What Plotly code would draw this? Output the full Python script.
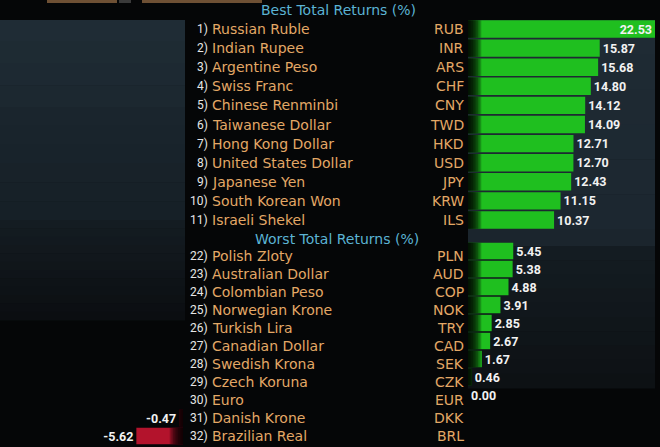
import plotly.graph_objects as go

W, H = 660, 447

# ---- data ----
top_rank = ["1)", "2)", "3)", "4)", "5)", "6)", "7)", "8)", "9)", "10)", "11)"]
top_names = ["Russian Ruble", "Indian Rupee", "Argentine Peso", "Swiss Franc",
             "Chinese Renminbi", "Taiwanese Dollar", "Hong Kong Dollar",
             "United States Dollar", "Japanese Yen", "South Korean Won",
             "Israeli Shekel"]
top_codes = ["RUB", "INR", "ARS", "CHF", "CNY", "TWD", "HKD", "USD", "JPY", "KRW", "ILS"]
top_values = [22.53, 15.87, 15.68, 14.80, 14.12, 14.09, 12.71, 12.70, 12.43, 11.15, 10.37]

bot_rank = ["22)", "23)", "24)", "25)", "26)", "27)", "28)", "29)", "30)", "31)", "32)"]
bot_names = ["Polish Zloty", "Australian Dollar", "Colombian Peso", "Norwegian Krone",
             "Turkish Lira", "Canadian Dollar", "Swedish Krona", "Czech Koruna",
             "Euro", "Danish Krone", "Brazilian Real"]
bot_codes = ["PLN", "AUD", "COP", "NOK", "TRY", "CAD", "SEK", "CZK", "EUR", "DKK", "BRL"]
bot_values = [5.45, 5.38, 4.88, 3.91, 2.85, 2.67, 1.67, 0.46, 0.00, -0.47, -5.62]

title_best = "Best Total Returns (%)"
title_worst = "Worst Total Returns (%)"


def px(x):
    return x / W


def py(y):
    return 1 - y / H


GREEN = "#1fbf1f"
RED = "#b3132c"
AMBER = "#e3a866"
CYAN = "#5bb3d4"
FADE = "rgba(0,0,0,0.24)"
VALUE_FONT = dict(family="Roboto", size=12.5, color="#f2f2f2", weight="bold")
UNIT = 8.3  # pixels per percentage point

fig = go.Figure()

pos_codes = [c for c, v in zip(bot_codes, bot_values) if v >= 0]
pos_vals = [v for v in bot_values if v >= 0]
neg_codes = [c for c, v in zip(bot_codes, bot_values) if v < 0]
neg_vals = [v for v in bot_values if v < 0]

# best returns bars
fig.add_trace(go.Bar(
    x=top_values, y=top_codes, orientation="h", xaxis="x", yaxis="y",
    marker=dict(color=GREEN, line=dict(width=0)),
    text=["%.2f" % v for v in top_values],
    textposition=["inside" if v > 20 else "outside" for v in top_values],
    insidetextanchor="end", textfont=VALUE_FONT, insidetextfont=VALUE_FONT,
    outsidetextfont=VALUE_FONT, constraintext="none", cliponaxis=False,
    hoverinfo="skip"))

# worst returns, positive part
fig.add_trace(go.Bar(
    x=pos_vals, y=pos_codes, orientation="h", xaxis="x", yaxis="y2",
    marker=dict(color=GREEN, line=dict(width=0)),
    text=["%.2f" % v for v in pos_vals], textposition="outside",
    textfont=VALUE_FONT, outsidetextfont=VALUE_FONT,
    constraintext="none", cliponaxis=False, hoverinfo="skip"))

# negative returns on the left panel
fig.add_trace(go.Bar(
    x=neg_vals, y=neg_codes, orientation="h", xaxis="x3", yaxis="y3",
    marker=dict(color=RED, line=dict(width=0)),
    text=["%.2f" % v for v in neg_vals], textposition="outside",
    textfont=VALUE_FONT, outsidetextfont=VALUE_FONT,
    constraintext="none", cliponaxis=False, hoverinfo="skip"))

# dark fade at the zero end of every bar
for k in range(8):
    edge = 0.2 * (k + 1)
    fig.add_trace(go.Bar(
        x=[min(v, edge) for v in top_values], y=top_codes, orientation="h",
        xaxis="x", yaxis="y", marker=dict(color=FADE, line=dict(width=0)),
        hoverinfo="skip"))
    fig.add_trace(go.Bar(
        x=[min(v, edge) for v in pos_vals], y=pos_codes, orientation="h",
        xaxis="x", yaxis="y2", marker=dict(color=FADE, line=dict(width=0)),
        hoverinfo="skip"))
    fig.add_trace(go.Bar(
        x=[max(v, -edge) for v in neg_vals], y=neg_codes, orientation="h",
        xaxis="x3", yaxis="y3", marker=dict(color=FADE, line=dict(width=0)),
        hoverinfo="skip"))

# ---- background panels ----
shapes = []


def rect(x0, y0, x1, y1, color):
    shapes.append(dict(type="rect", xref="paper", yref="paper", layer="below",
                       x0=px(x0), x1=px(x1), y0=py(y1), y1=py(y0),
                       fillcolor=color, line=dict(width=0)))


def mix(c0, c1, t):
    a = [int(c0[i:i + 2], 16) for i in (1, 3, 5)]
    b = [int(c1[i:i + 2], 16) for i in (1, 3, 5)]
    return "rgb(%d,%d,%d)" % tuple(round(a[i] + (b[i] - a[i]) * t) for i in range(3))


def vgrad(x0, y0, x1, y1, c0, c1, steps=12):
    h = (y1 - y0) / steps
    for i in range(steps):
        rect(x0, y0 + i * h, x1, y0 + (i + 1) * h + 0.5, mix(c0, c1, i / max(steps - 1, 1)))


# left panel
vgrad(0, 20, 185, 107, "#1f2c35", "#1c2830", 4)
vgrad(0, 107, 185, 220, "#1a252d", "#162027", 6)
vgrad(0, 220, 185, 320, "#141c22", "#0b0e11", 12)
# right panel
vgrad(468, 20, 655, 229, "#1f2b34", "#1c2730", 6)
rect(468, 229, 655, 246, "#1b252d")
vgrad(468, 246, 655, 388, "#141c22", "#0d1114", 10)
# cut-off buttons at the very top
rect(47, 0, 117, 3, "#6e5034")
rect(119, 0, 131, 3, "#3a3a3a")
rect(142, 0, 262, 3, "#6e5034")

# ---- row labels ----
ann = []


def label_rows(ranks, names, codes, yref):
    for r, n, c in zip(ranks, names, codes):
        ann.append(dict(text=r, x=px(210), xref="paper", y=c, yref=yref,
                        xanchor="right", yanchor="middle", showarrow=False,
                        font=dict(family="Roboto", size=12, color="#e6e6e6")))
        ann.append(dict(text=n, x=px(210), xref="paper", y=c, yref=yref,
                        xanchor="left", yanchor="middle", showarrow=False,
                        font=dict(family="DejaVu Sans", size=14, color=AMBER)))
        ann.append(dict(text=c, x=px(466), xref="paper", y=c, yref=yref,
                        xanchor="right", yanchor="middle", showarrow=False,
                        font=dict(family="DejaVu Sans", size=14, color=AMBER)))


label_rows(top_rank, top_names, top_codes, "y")
label_rows(bot_rank, bot_names, bot_codes, "y3")

ann.append(dict(text=title_best, x=px(338), y=py(10), xref="paper", yref="paper",
                yanchor="middle", showarrow=False,
                font=dict(family="DejaVu Sans", size=14, color=CYAN)))
ann.append(dict(text=title_worst, x=px(337), y=py(239), xref="paper", yref="paper",
                yanchor="middle", showarrow=False,
                font=dict(family="DejaVu Sans", size=14, color=CYAN)))

hidden = dict(visible=False, showgrid=False, zeroline=False, fixedrange=True)
n = len(top_codes)

fig.update_layout(
    width=W, height=H, margin=dict(l=0, r=0, t=0, b=0),
    paper_bgcolor="#050607", plot_bgcolor="rgba(0,0,0,0)",
    barmode="overlay", bargap=0.09, showlegend=False,
    xaxis=dict(hidden, domain=[px(468), 1], range=[0, (W - 468) / UNIT], anchor="y"),
    xaxis3=dict(hidden, domain=[0, px(183)], range=[-183 / UNIT, 0], anchor="y3"),
    yaxis=dict(hidden, type="category", categoryarray=top_codes,
               domain=[py(29 + 19.1 * (n - 0.5)), py(29 - 19.1 * 0.5)],
               range=[n - 0.5, -0.5]),
    yaxis2=dict(hidden, type="category", categoryarray=pos_codes + neg_codes,
                domain=[py(251 + 18 * (n - 0.5)), py(251 - 18 * 0.5)],
                range=[n - 0.5, -0.5], anchor="x"),
    yaxis3=dict(hidden, type="category", categoryarray=bot_codes,
                domain=[py(256 + 18 * (n - 0.5)), py(256 - 18 * 0.5)],
                range=[n - 0.5, -0.5], anchor="x3"),
    shapes=shapes, annotations=ann,
)

fig.write_html("out.html", config={"displayModeBar": False},
               post_script="document.body.style.margin='0';document.body.style.overflow='hidden';")
